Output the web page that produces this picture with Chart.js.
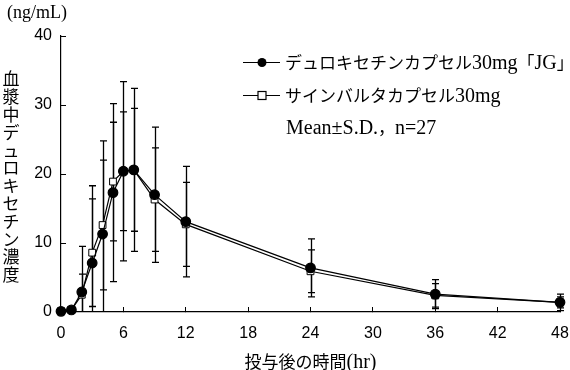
<!DOCTYPE html>
<html>
<head>
<meta charset="utf-8">
<script src="https://cdn.jsdelivr.net/npm/chart.js@4/dist/chart.umd.min.js"></script>
<style>
html,body{margin:0;padding:0;background:#fff;}
#wrap{position:relative;width:570px;height:370px;}
</style>
</head>
<body>
<div id="wrap"><canvas id="c" width="570" height="370"></canvas></div>
<script>
const times = [0, 1, 2, 3, 4, 5, 6, 7, 9, 12, 24, 36, 48];
const jgMean  = [0.1, 0.3, 2.9, 7.1, 11.3, 17.3, 20.4, 20.6, 17.0, 13.1, 6.4, 2.6, 1.4];
const jgSD    = [0.1, 0.3, 6.6, 11.2, 13.5, 12.9, 13.0, 11.8, 9.8, 8.0, 4.2, 2.1, 1.2];
const cymMean = [0.1, 0.3, 2.5, 8.6, 12.6, 18.9, 20.4, 20.6, 16.3, 12.7, 5.9, 2.4, 1.4];
const cymSD   = [0.1, 0.3, 3.0, 7.8, 9.4, 8.6, 8.6, 8.9, 7.5, 6.1, 3.1, 1.7, 0.8];
const xTicks = [0, 6, 12, 18, 24, 30, 36, 42, 48];
const yTicks = [0, 10, 20, 30, 40];
const seriesNames = ['デュロキセチンカプセル30mg「JG」', 'サインバルタカプセル30mg'];
const noteText = 'Mean±S.D.，n=27';
const unitText = '(ng/mL)';
const yTitle = '血漿中デュロキセチン濃度';
const xTitle = '投与後の時間(hr)';

const serif = '"Liberation Serif", serif';
const cjk = '"Noto Sans CJK JP", sans-serif';
const sans = '"Liberation Sans", Arial, sans-serif';

function isCJK(ch) {
  const c = ch.codePointAt(0);
  return c >= 0x3000;
}
// draw mixed text: CJK runs in CJK font, Latin runs in serif
function drawMixed(ctx, text, x, y, cjkSize, latSize, align) {
  const runs = [];
  for (const ch of Array.from(text)) {
    const k = isCJK(ch);
    if (runs.length && runs[runs.length - 1].k === k) runs[runs.length - 1].t += ch;
    else runs.push({k, t: ch});
  }
  const fontOf = r => r.k ? (cjkSize + 'px ' + cjk) : (latSize + 'px ' + serif);
  let total = 0;
  runs.forEach(r => { ctx.font = fontOf(r); r.w = ctx.measureText(r.t).width; total += r.w; });
  let cx = align === 'center' ? x - total / 2 : x;
  ctx.textAlign = 'left';
  ctx.textBaseline = 'alphabetic';
  runs.forEach(r => { ctx.font = fontOf(r); ctx.fillText(r.t, cx, y); cx += r.w; });
}

const errorBars = {
  id: 'errorBars',
  beforeDatasetsDraw(chart) {
    const ctx = chart.ctx, xs = chart.scales.x, ys = chart.scales.y, a = chart.chartArea;
    ctx.save();
    ctx.beginPath();
    ctx.rect(a.left, a.top - 2, a.right - a.left + 10, a.bottom - a.top + 2);
    ctx.clip();
    ctx.strokeStyle = '#000';
    ctx.lineWidth = 1.3;
    const sets = [[cymMean, cymSD], [jgMean, jgSD]];
    sets.forEach(([m, s]) => {
      times.forEach((t, i) => {
        const x = Math.round(xs.getPixelForValue(t)) + 0.5;
        const yt = ys.getPixelForValue(m[i] + s[i]);
        const yb = ys.getPixelForValue(m[i] - s[i]);
        ctx.beginPath();
        ctx.moveTo(x, yt); ctx.lineTo(x, yb);
        ctx.moveTo(x - 3.5, yt); ctx.lineTo(x + 3.5, yt);
        ctx.moveTo(x - 3.5, yb); ctx.lineTo(x + 3.5, yb);
        ctx.stroke();
      });
    });
    ctx.restore();
  }
};

const extras = {
  id: 'extras',
  afterDraw(chart) {
    const ctx = chart.ctx;
    ctx.save();
    ctx.fillStyle = '#000';
    ctx.strokeStyle = '#000';
    // unit
    ctx.font = '18px ' + serif;
    ctx.textAlign = 'left';
    ctx.textBaseline = 'alphabetic';
    ctx.fillText(unitText, 7, 18);
    // vertical title
    ctx.font = '17px ' + cjk;
    ctx.textAlign = 'center';
    ctx.textBaseline = 'middle';
    Array.from(yTitle).forEach((ch, i) => {
      ctx.fillText(ch, 11, 79 + i * 17.8);
    });
    // legend
    const lx0 = 243, lx1 = 280, mx = 262;
    const rows = [62, 95];
    ctx.lineWidth = 1.2;
    rows.forEach((y, i) => {
      ctx.beginPath(); ctx.moveTo(lx0, y + 0.5); ctx.lineTo(lx1, y + 0.5); ctx.stroke();
      if (i === 0) {
        ctx.beginPath(); ctx.arc(mx, y + 0.5, 4.5, 0, Math.PI * 2); ctx.fill();
      } else {
        ctx.fillStyle = '#fff';
        ctx.fillRect(mx - 4, y - 3.5, 8, 8);
        ctx.strokeRect(mx - 4, y - 3.5, 8, 8);
        ctx.fillStyle = '#000';
      }
      drawMixed(ctx, seriesNames[i], 285, y + 7, 17, 20, 'left');
    });
    drawMixed(ctx, noteText, 286, 134, 17, 20, 'left');
    // x title
    drawMixed(ctx, xTitle, (chart.chartArea.left + chart.chartArea.right) / 2, 368, 17, 20, 'center');
    ctx.restore();
  }
};

new Chart(document.getElementById('c'), {
  type: 'line',
  data: {
    datasets: [
      {
        label: seriesNames[0],
        data: times.map((t, i) => ({x: t, y: jgMean[i]})),
        borderColor: '#000', borderWidth: 1.2,
        pointStyle: 'circle', pointRadius: 4.8,
        pointBackgroundColor: '#000', pointBorderColor: '#000',
        tension: 0
      },
      {
        label: seriesNames[1],
        data: times.map((t, i) => ({x: t, y: cymMean[i]})),
        borderColor: '#000', borderWidth: 1.2,
        pointStyle: 'rect', pointRadius: 4.8,
        pointBackgroundColor: '#fff', pointBorderColor: '#000', pointBorderWidth: 1,
        tension: 0
      }
    ]
  },
  options: {
    responsive: false,
    animation: false,
    clip: false,
    layout: { padding: { left: 0, right: 10, top: 36, bottom: 0 } },
    plugins: { legend: { display: false }, tooltip: { enabled: false } },
    scales: {
      x: {
        type: 'linear', min: 0, max: 48,
        afterBuildTicks: s => { s.ticks = xTicks.map(v => ({value: v})); },
        afterFit: s => { s.height = 58; s.paddingRight = 0; s.paddingLeft = 0; },
        grid: { display: true, drawOnChartArea: false, drawTicks: true, tickLength: -5, color: '#000', lineWidth: 1 },
        border: { display: true, color: '#000', width: 1.2 },
        ticks: { color: '#000', font: { family: sans, size: 16 }, padding: 17, maxRotation: 0 },
        title: { display: false, text: xTitle }
      },
      y: {
        type: 'linear', min: 0, max: 40,
        afterBuildTicks: s => { s.ticks = yTicks.map(v => ({value: v})); },
        afterFit: s => { s.width = 61; },
        grid: { display: true, drawOnChartArea: false, drawTicks: true, tickLength: -5, color: '#000', lineWidth: 1 },
        border: { display: true, color: '#000', width: 1.2 },
        ticks: { color: '#000', font: { family: sans, size: 16 }, padding: 14 }
      }
    }
  },
  plugins: [errorBars, extras]
});
</script>
</body>
</html>
